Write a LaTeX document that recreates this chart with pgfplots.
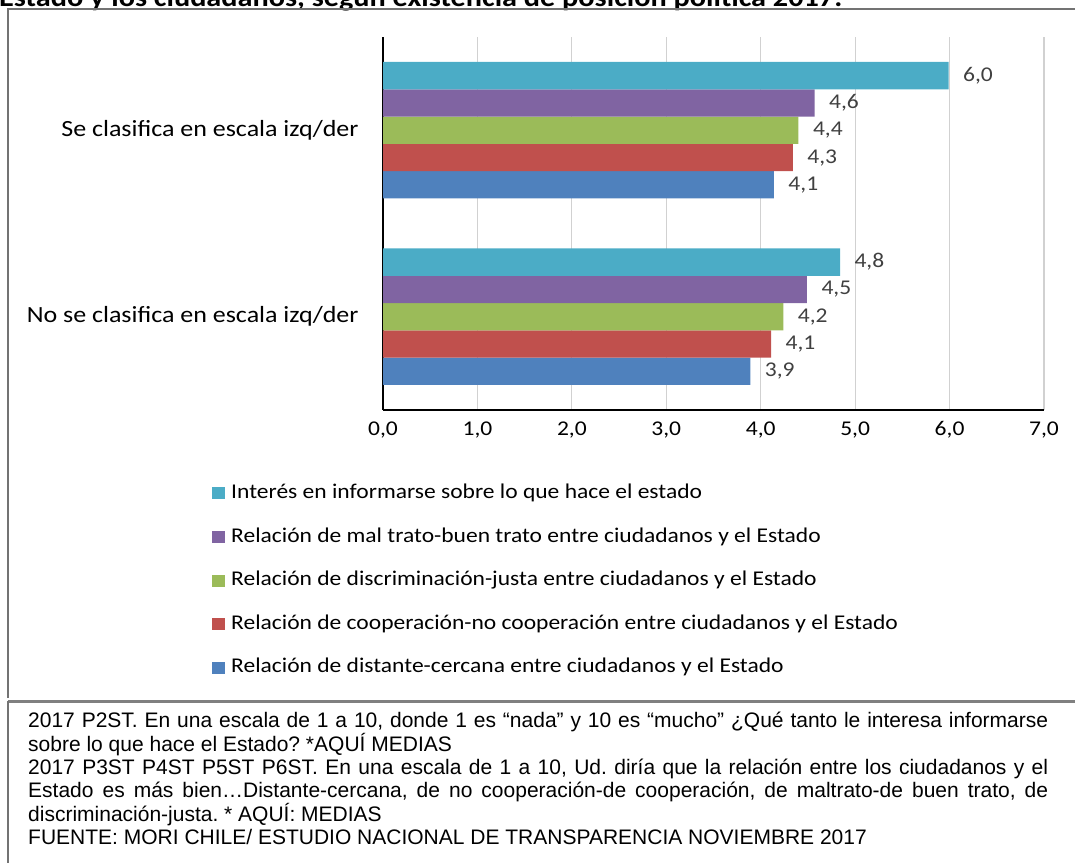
\documentclass[border=0pt]{standalone}
\usepackage{pgfplots}
\pgfplotsset{compat=1.18}
\usepackage{fontspec}
\setmainfont{Carlito}[FakeStretch=1.12]
\newfontfamily\arial{Liberation Sans}
\definecolor{cCyan}{HTML}{4BACC6}
\definecolor{cPurple}{HTML}{8064A2}
\definecolor{cGreen}{HTML}{9BBB59}
\definecolor{cRed}{HTML}{C0504D}
\definecolor{cBlue}{HTML}{4F81BD}
\definecolor{lbl}{HTML}{404040}
\frenchspacing
\begin{document}
\begin{tikzpicture}[x=1pt,y=1pt]
\useasboundingbox (0,0) rectangle (1075,862);
\node[anchor=base west, inner sep=0, font=\fontsize{27}{30}\selectfont\bfseries] at (-1,855.5) {Estado y los ciudadanos, según existencia de posición política 2017.};
\draw[black!55, line width=1.2pt] (8,164) -- (8,853) -- (1080,853);
\draw[black!50, line width=3pt] (8,161) -- (1080,161);
\draw[black!55, line width=1.2pt] (8,-2) -- (8,161);
\begin{axis}[
  at={(383pt,452pt)}, anchor=south west,
  scale only axis, width=661pt, height=373pt,
  xbar, bar width=27.3pt,
  xmin=0, xmax=7, ymin=-0.5, ymax=1.5,
  axis x line*=bottom, axis y line*=left,
  axis line style={black, line width=1.2pt, -},
  xmajorgrids, grid style={black!18, line width=1.2pt},
  major tick length=0pt,
  xtick={0,1,...,7},
  xticklabel={\pgfmathprintnumber[fixed, fixed zerofill, precision=1, use comma, assume math mode=true]{\tick}},
  xticklabel style={font=\fontsize{21}{24}\selectfont, text=black, yshift=-8pt},
  ytick={0,1},
  yticklabels={No se clasifica en escala izq/der, Se clasifica en escala izq/der},
  yticklabel style={font=\fontsize{23.2}{26}\selectfont, text=black, xshift=-21pt},
  point meta=x,
  nodes near coords={\pgfmathprintnumber[fixed, fixed zerofill, precision=1, use comma, assume math mode=true]{\pgfplotspointmeta}},
  every node near coord/.append style={font=\fontsize{21}{24}\selectfont, text=lbl, anchor=west, xshift=11pt},
  legend image code/.code={\fill[#1, draw=none] (0pt,-6pt) rectangle (13pt,6pt);},
  reverse legend,
  legend cell align=left,
  legend style={at={(-0.2587,-0.199)}, anchor=north west, draw=none, fill=none, inner sep=0pt,
    font=\fontsize{21}{24}\selectfont, row sep=25.6pt,
    nodes={inner sep=0pt, text height=14pt, text depth=4pt},
    /tikz/every odd column/.append style={column sep=6pt}},
]
\addplot[fill=cBlue, draw=none, bar shift=-54.6pt] coordinates {(4.14,1) (3.89,0)};
\addplot[fill=cRed, draw=none, bar shift=-27.3pt] coordinates {(4.34,1) (4.11,0)};
\addplot[fill=cGreen, draw=none, bar shift=0pt] coordinates {(4.40,1) (4.24,0)};
\addplot[fill=cPurple, draw=none, bar shift=27.3pt] coordinates {(4.57,1) (4.49,0)};
\addplot[fill=cCyan, draw=none, bar shift=54.6pt] coordinates {(5.99,1) (4.84,0)};
\legend{Relación de distante-cercana entre ciudadanos y el Estado,
Relación de cooperación-no cooperación entre ciudadanos y el Estado,
Relación de discriminación-justa entre ciudadanos y el Estado,
Relación de mal trato-buen trato entre ciudadanos y el Estado,
Interés en informarse sobre lo que hace el estado}
\end{axis}
\node[anchor=north west, inner sep=0pt, align=left, font=\arial\fontsize{21}{23.4}\selectfont] at (28,150) {%
\makebox[1020pt][s]{2017 P2ST. En una escala de 1 a 10, donde 1 es “nada” y 10 es “mucho” ¿Qué tanto le interesa informarse}\\
sobre lo que hace el Estado? *AQUÍ MEDIAS\\
\makebox[1020pt][s]{2017 P3ST P4ST P5ST P6ST. En una escala de 1 a 10, Ud. diría que la relación entre los ciudadanos y el}\\
\makebox[1020pt][s]{Estado es más bien…Distante-cercana, de no cooperación-de cooperación, de maltrato-de buen trato, de}\\
discriminación-justa. * AQUÍ: MEDIAS\\
FUENTE: MORI CHILE/ ESTUDIO NACIONAL DE TRANSPARENCIA NOVIEMBRE 2017};
\end{tikzpicture}
\end{document}
